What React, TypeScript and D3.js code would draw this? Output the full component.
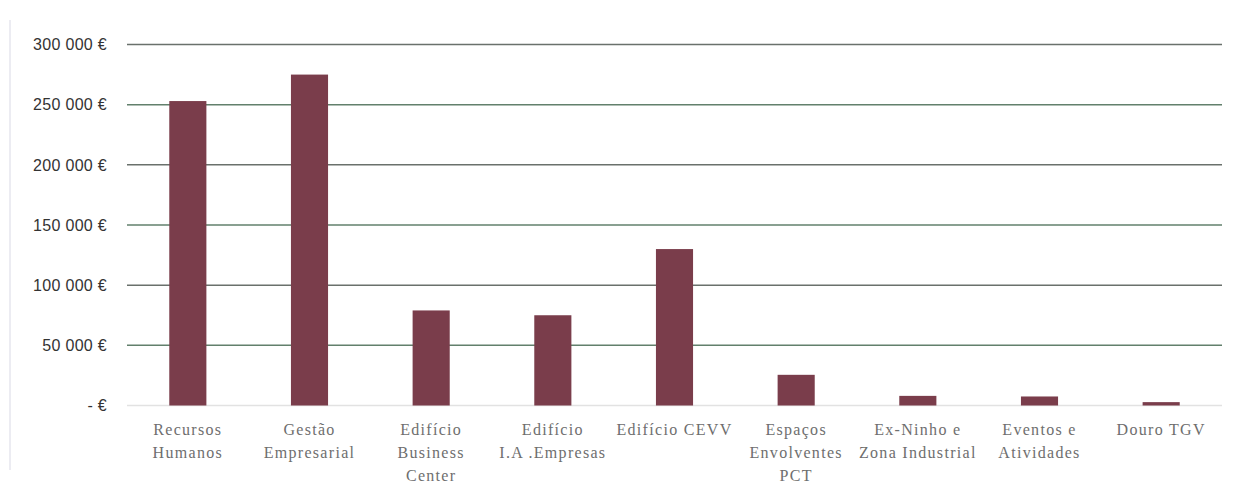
import React from "react";
import * as d3 from "d3";

const categories = [
  "Recursos\nHumanos",
  "Gestão\nEmpresarial",
  "Edifício\nBusiness\nCenter",
  "Edifício\nI.A .Empresas",
  "Edifício CEVV",
  "Espaços\nEnvolventes\nPCT",
  "Ex-Ninho e\nZona Industrial",
  "Eventos e\nAtividades",
  "Douro TGV",
];
const values = [253000, 275000, 79000, 75000, 130000, 25500, 8000, 7500, 2800];
const yTicks = [0, 50000, 100000, 150000, 200000, 250000, 300000];
const yTickLabels = ["- €", "50 000 €", "100 000 €", "150 000 €", "200 000 €", "250 000 €", "300 000 €"];

const W = 1237;
const H = 486;
const plotLeft = 127;
const plotRight = 1222;

export default function App() {
  const x = d3
    .scaleBand<string>()
    .domain(categories)
    .range([plotLeft, plotRight])
    .paddingInner(0.695)
    .paddingOuter(0.3475);
  const y = d3.scaleLinear().domain([0, 300000]).range([405.5, 44.5]);

  return (
    <div style={{ position: "absolute", left: 0, top: 0 }}>
      <svg width={W} height={H} style={{ display: "block", background: "#fff" }}>
        <line x1={10} x2={10} y1={20} y2={470} stroke="#ececf2" strokeWidth={2} />
        {yTicks.map((t, i) =>
          t === 0 ? (
            <line key={t} x1={plotLeft} x2={plotRight} y1={y(t)} y2={y(t)} stroke="#e2e2e2" strokeWidth={1.5} />
          ) : (
            <line
              key={t}
              x1={plotLeft}
              x2={plotRight}
              y1={y(t)}
              y2={y(t)}
              stroke={i % 2 === 1 ? "#62806c" : "#6a716c"}
              strokeWidth={1.5}
            />
          )
        )}
        {yTicks.map((t, i) => (
          <text
            key={"l" + t}
            x={107}
            y={y(t)}
            dy="0.36em"
            textAnchor="end"
            fontFamily="'Liberation Sans', Arial, sans-serif"
            fontSize={16}
            letterSpacing={0.3}
            fill="#333333"
          >
            {yTickLabels[i]}
          </text>
        ))}
        {categories.map((c, i) => (
          <rect
            key={"b" + i}
            x={x(c)}
            y={y(values[i])}
            width={x.bandwidth()}
            height={y(0) - y(values[i])}
            fill="#7a3d4b"
          />
        ))}
        {categories.map((c, i) => (
          <text
            key={"c" + i}
            x={(x(c) as number) + x.bandwidth() / 2}
            y={435}
            textAnchor="middle"
            fontFamily="'Liberation Serif', 'DejaVu Serif', serif"
            fontSize={16}
            letterSpacing={1.3}
            fill="#6e6e6e"
          >
            {c.split("\n").map((line, j) => (
              <tspan key={j} x={(x(c) as number) + x.bandwidth() / 2} dy={j === 0 ? 0 : 23}>
                {line}
              </tspan>
            ))}
          </text>
        ))}
      </svg>
    </div>
  );
}
